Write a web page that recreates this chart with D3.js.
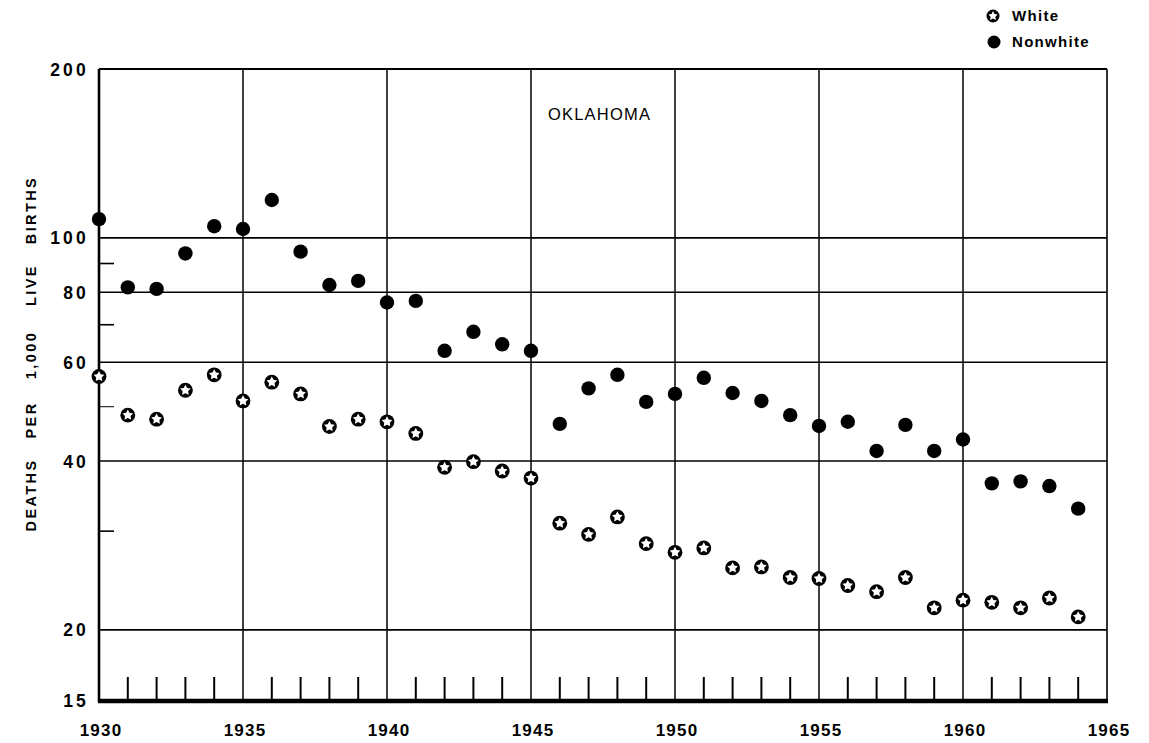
<!DOCTYPE html>
<html>
<head>
<meta charset="utf-8">
<script src="https://cdn.jsdelivr.net/npm/d3@7"></script>
<style>
  html, body { margin: 0; padding: 0; background: #fff; }
  svg { display: block; }
  text { font-family: "Liberation Sans", Arial, sans-serif; fill: #000; }
</style>
</head>
<body>
<svg id="chart" width="1149" height="743"></svg>
<script>
// ---- Data ----
const years = d3.range(1930, 1965); // 1930..1964
const whiteRates = [56.6, 48.3, 47.5, 53.5, 57.0, 51.2, 55.3, 52.7, 46.1, 47.5,
                    47.0, 44.8, 39.0, 39.9, 38.4, 37.3, 31.0, 29.6, 31.8, 28.5,
                    27.5, 28.0, 25.8, 25.9, 24.8, 24.7, 24.0, 23.4, 24.8, 21.9,
                    22.6, 22.4, 21.9, 22.8, 21.1];
const nonwhiteRates = [108.0, 81.6, 81.1, 93.8, 104.9, 103.7, 116.8, 94.5, 82.4, 83.8,
                       76.7, 77.2, 62.9, 68.0, 64.6, 62.9, 46.6, 53.9, 57.0, 51.0,
                       52.7, 56.3, 52.9, 51.2, 48.3, 46.2, 47.0, 41.7, 46.4, 41.7,
                       43.7, 36.5, 36.8, 36.1, 32.9];
const yTickLabels = [200, 100, 80, 60, 40, 20, 15];
const yGridValues = [100, 80, 60, 40, 20];
const yMinorTicks = [90, 70, 50, 30];
const xTickLabels = [1930, 1935, 1940, 1945, 1950, 1955, 1960, 1965];
const yLabelWords = ["DEATHS", "PER", "1,000", "LIVE", "BIRTHS"];
const legendItems = ["White", "Nonwhite"];
const chartTitle = "OKLAHOMA";

// ---- Layout ----
const svg = d3.select("#chart");
const mLeft = 99, mRight = 1107, mTop = 69, mBottom = 700;

const x = d3.scaleLinear().domain([1930, 1965]).range([mLeft, mRight]);
const y = d3.scaleLog().domain([15, 200]).range([mBottom, mTop]);

const g = svg.append("g");

// horizontal gridlines
g.selectAll("line.hgrid").data(yGridValues).enter().append("line")
  .attr("x1", mLeft).attr("x2", mRight)
  .attr("y1", d => y(d)).attr("y2", d => y(d))
  .attr("stroke", "#000").attr("stroke-width", 1.6);

// vertical gridlines at 5-year marks
g.selectAll("line.vgrid").data(xTickLabels.filter(d => d > 1930 && d < 1965)).enter().append("line")
  .attr("x1", d => x(d)).attr("x2", d => x(d))
  .attr("y1", mTop).attr("y2", mBottom)
  .attr("stroke", "#000").attr("stroke-width", 1.5);

// yearly ticks from bottom
g.selectAll("line.ytick").data(years.filter(d => d % 5 !== 0)).enter().append("line")
  .attr("x1", d => x(d)).attr("x2", d => x(d))
  .attr("y1", mBottom).attr("y2", mBottom - 23)
  .attr("stroke", "#000").attr("stroke-width", 2);

// left minor ticks
g.selectAll("line.minor").data(yMinorTicks).enter().append("line")
  .attr("x1", mLeft).attr("x2", mLeft + 15)
  .attr("y1", d => y(d)).attr("y2", d => y(d))
  .attr("stroke", "#000").attr("stroke-width", d => d === 50 ? 1 : 1.6);

// frame
g.append("line").attr("x1", mLeft).attr("x2", mRight).attr("y1", mTop).attr("y2", mTop)
  .attr("stroke", "#000").attr("stroke-width", 2);
g.append("line").attr("x1", mRight).attr("x2", mRight).attr("y1", mTop).attr("y2", mBottom)
  .attr("stroke", "#000").attr("stroke-width", 1.6);
g.append("line").attr("x1", mLeft).attr("x2", mLeft).attr("y1", mTop).attr("y2", mBottom + 2)
  .attr("stroke", "#000").attr("stroke-width", 2.6);
g.append("line").attr("x1", mLeft - 1).attr("x2", mRight + 1).attr("y1", mBottom + 1).attr("y2", mBottom + 1)
  .attr("stroke", "#000").attr("stroke-width", 4.5);

// y tick labels
g.selectAll("text.ylab").data(yTickLabels).enter().append("text")
  .attr("x", 89).attr("y", d => y(d) + 6.5)
  .attr("text-anchor", "end")
  .style("font-size", "17.5px").style("font-weight", "bold").style("letter-spacing", "3.2px")
  .text(d => d);

// x tick labels
g.selectAll("text.xlab").data(xTickLabels).enter().append("text")
  .attr("x", d => x(d) + 2).attr("y", 736)
  .attr("text-anchor", "middle")
  .style("font-size", "17px").style("font-weight", "bold").style("letter-spacing", "1.2px")
  .text(d => d);

// y axis label (rotated words)
const wordCenters = [495, 420, 355, 285, 210];
g.selectAll("text.ylabel").data(yLabelWords).enter().append("text")
  .attr("transform", (d, i) => `translate(36,${wordCenters[i]}) rotate(-90)`)
  .attr("text-anchor", "middle")
  .style("font-size", "14.5px").style("font-weight", "bold").style("letter-spacing", "2.4px")
  .text(d => d);

// title
g.append("text").attr("x", 548).attr("y", 120)
  .style("font-size", "16.5px").style("letter-spacing", "1.2px")
  .text(chartTitle);

// markers
function starD(ro, ri) {
  const pts = d3.range(10).map(k => {
    const a = -Math.PI / 2 + k * Math.PI / 5;
    const r = k % 2 === 0 ? ro : ri;
    return [r * Math.cos(a), r * Math.sin(a)];
  });
  return "M" + pts.map(p => p.join(",")).join("L") + "Z";
}

const whiteData = years.map((yr, i) => ({yr, v: whiteRates[i]}));
const nonwhiteData = years.map((yr, i) => ({yr, v: nonwhiteRates[i]}));

g.selectAll("circle.nw").data(nonwhiteData).enter().append("circle")
  .attr("cx", d => x(d.yr)).attr("cy", d => y(d.v)).attr("r", 7.2).attr("fill", "#000");

const wg = g.selectAll("g.w").data(whiteData).enter().append("g")
  .attr("transform", d => `translate(${x(d.yr)},${y(d.v)})`);
wg.append("circle").attr("r", 7.4).attr("fill", "#000");
wg.append("path").attr("d", starD(5.6, 2.9)).attr("fill", "#fff");

// legend
const lg = svg.append("g");
const l1 = lg.append("g").attr("transform", "translate(993,16)");
l1.append("circle").attr("r", 6.5).attr("fill", "#000");
l1.append("path").attr("d", starD(4.9, 2.5)).attr("fill", "#fff");
lg.append("circle").attr("cx", 994).attr("cy", 42).attr("r", 6.5).attr("fill", "#000");
lg.selectAll("text.leg").data(legendItems).enter().append("text")
  .attr("x", 1012).attr("y", (d, i) => 21 + i * 26)
  .style("font-size", "15px").style("font-weight", "bold").style("letter-spacing", "1.3px")
  .text(d => d);
</script>
</body>
</html>
